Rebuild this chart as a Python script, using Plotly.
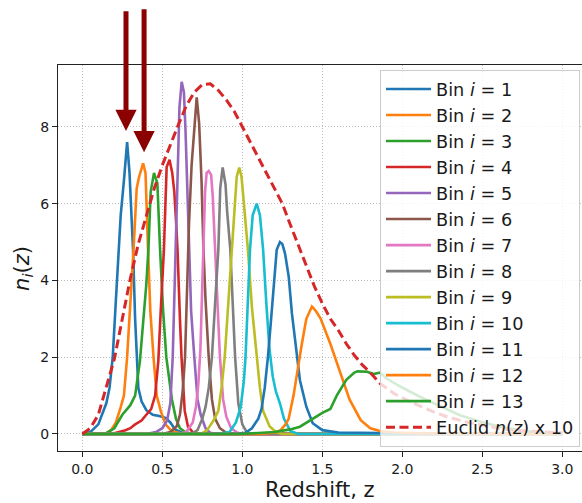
import plotly.graph_objects as go

# ---- data ----
z1 = [0.0, 0.05, 0.10, 0.15, 0.17, 0.19, 0.21, 0.225, 0.24, 0.26, 0.28, 0.295, 0.317, 0.33, 0.34, 0.35, 0.37, 0.40, 0.44, 0.48, 0.52, 0.55, 0.58, 0.62, 0.7, 1.0, 2.0, 3.0]
n1 = [0.0, 0.05, 0.25, 0.8, 1.2, 2.0, 3.5, 4.8, 5.7, 6.6, 7.6, 6.8, 4.8, 3.0, 2.0, 1.2, 0.85, 0.62, 0.5, 0.47, 0.42, 0.3, 0.12, 0.04, 0.01, 0.005, 0.002, 0.0]

z2 = [0.0, 0.15, 0.18, 0.21, 0.24, 0.26, 0.28, 0.30, 0.32, 0.34, 0.355, 0.38, 0.395, 0.41, 0.425, 0.445, 0.465, 0.49, 0.52, 0.56, 0.62, 1.0, 3.0]
n2 = [0.0, 0.02, 0.1, 0.3, 0.7, 1.0, 2.0, 3.3, 4.8, 6.4, 6.7, 7.05, 6.8, 4.9, 3.2, 2.0, 1.0, 0.6, 0.25, 0.07, 0.01, 0.0, 0.0]

z3 = [0.0, 0.15, 0.2, 0.25, 0.3, 0.33, 0.36, 0.38, 0.40, 0.413, 0.427, 0.448, 0.469, 0.486, 0.505, 0.525, 0.545, 0.56, 0.585, 0.61, 0.65, 0.7, 3.0]
n3 = [0.0, 0.02, 0.15, 0.5, 0.75, 1.0, 1.9, 2.8, 3.9, 4.8, 6.3, 6.8, 6.53, 4.8, 3.2, 2.0, 1.3, 0.9, 0.4, 0.15, 0.03, 0.0, 0.0]

z4 = [0.0, 0.2, 0.27, 0.3, 0.33, 0.37, 0.40, 0.43, 0.455, 0.475, 0.49, 0.51, 0.527, 0.545, 0.562, 0.575, 0.585, 0.595, 0.61, 0.62, 0.64, 0.66, 0.69, 0.72, 3.0]
n4 = [0.0, 0.02, 0.1, 0.15, 0.25, 0.35, 0.5, 0.65, 1.0, 1.9, 3.2, 4.8, 6.95, 7.14, 6.8, 6.3, 5.6, 4.8, 3.0, 2.0, 0.6, 0.2, 0.05, 0.0, 0.0]

z5 = [0.0, 0.40, 0.46, 0.50, 0.53, 0.55, 0.565, 0.575, 0.585, 0.597, 0.607, 0.621, 0.635, 0.645, 0.655, 0.665, 0.68, 0.70, 0.72, 0.74, 0.77, 0.80, 0.84, 3.0]
n5 = [0.0, 0.0, 0.05, 0.15, 0.35, 0.8, 2.0, 3.5, 4.9, 7.0, 8.5, 9.17, 8.9, 7.9, 6.5, 4.8, 3.2, 2.0, 0.9, 0.5, 0.15, 0.03, 0.0, 0.0]

z6 = [0.0, 0.50, 0.55, 0.59, 0.61, 0.627, 0.642, 0.655, 0.667, 0.683, 0.697, 0.715, 0.73, 0.745, 0.757, 0.77, 0.79, 0.81, 0.83, 0.86, 0.90, 0.95, 3.0]
n6 = [0.0, 0.0, 0.05, 0.2, 0.5, 1.1, 2.0, 4.0, 5.5, 7.0, 7.9, 8.77, 8.1, 6.6, 4.8, 3.5, 2.0, 0.9, 0.4, 0.15, 0.03, 0.0, 0.0]

z7 = [0.0, 0.60, 0.65, 0.69, 0.71, 0.725, 0.738, 0.748, 0.757, 0.767, 0.777, 0.79, 0.805, 0.815, 0.83, 0.845, 0.86, 0.88, 0.90, 0.93, 0.97, 1.02, 3.0]
n7 = [0.0, 0.0, 0.05, 0.3, 0.7, 1.3, 2.2, 3.6, 5.0, 6.3, 6.8, 6.85, 6.75, 6.2, 4.8, 3.2, 2.0, 0.9, 0.45, 0.15, 0.03, 0.0, 0.0]

z8 = [0.0, 0.68, 0.72, 0.75, 0.77, 0.79, 0.81, 0.83, 0.85, 0.862, 0.877, 0.895, 0.905, 0.925, 0.94, 0.955, 0.975, 1.0, 1.03, 1.07, 3.0]
n8 = [0.0, 0.0, 0.1, 0.4, 0.7, 1.2, 2.0, 3.5, 4.8, 6.4, 6.94, 6.5, 5.8, 4.8, 3.2, 2.0, 0.8, 0.25, 0.03, 0.0, 0.0]

z9 = [0.0, 0.74, 0.78, 0.82, 0.85, 0.87, 0.89, 0.91, 0.933, 0.95, 0.965, 0.981, 0.995, 1.01, 1.035, 1.06, 1.09, 1.11, 1.13, 1.17, 1.21, 1.25, 3.0]
n9 = [0.0, 0.0, 0.1, 0.35, 0.6, 1.2, 2.0, 3.3, 4.8, 6.0, 6.7, 6.94, 6.7, 6.0, 4.8, 3.3, 2.0, 1.2, 0.6, 0.2, 0.05, 0.0, 0.0]

z10 = [0.0, 0.85, 0.92, 0.96, 0.99, 1.01, 1.02, 1.035, 1.048, 1.065, 1.09, 1.11, 1.13, 1.15, 1.17, 1.19, 1.21, 1.235, 1.26, 1.30, 1.35, 3.0]
n10 = [0.0, 0.0, 0.05, 0.3, 0.7, 1.4, 2.0, 3.5, 4.8, 5.7, 6.0, 5.7, 4.8, 3.4, 2.2, 1.5, 1.1, 0.8, 0.4, 0.08, 0.0, 0.0]

z11 = [0.0, 0.95, 1.02, 1.06, 1.10, 1.12, 1.14, 1.16, 1.18, 1.20, 1.215, 1.235, 1.25, 1.267, 1.29, 1.31, 1.34, 1.36, 1.40, 1.44, 1.50, 1.60, 2.0, 3.0]
n11 = [0.0, 0.0, 0.03, 0.15, 0.4, 0.65, 1.2, 2.0, 3.0, 4.1, 4.8, 5.0, 4.95, 4.7, 4.1, 3.14, 2.0, 1.4, 0.71, 0.28, 0.1, 0.04, 0.02, 0.0]

z12 = [0.0, 1.1, 1.2, 1.24, 1.27, 1.29, 1.32, 1.35, 1.37, 1.40, 1.435, 1.46, 1.49, 1.55, 1.61, 1.67, 1.74, 1.80, 1.86, 1.95, 2.1, 3.0]
n12 = [0.0, 0.0, 0.03, 0.1, 0.25, 0.4, 1.0, 1.85, 2.3, 3.0, 3.32, 3.2, 3.0, 2.35, 1.6, 0.9, 0.36, 0.15, 0.08, 0.04, 0.02, 0.0]

z13 = [0.0, 1.0, 1.2, 1.3, 1.36, 1.44, 1.5, 1.55, 1.59, 1.65, 1.70, 1.72, 1.78, 1.82, 1.86, 1.9, 1.99, 2.11, 2.24, 2.36, 2.49, 2.61, 2.74, 2.86, 3.0]
n13 = [0.0, 0.0, 0.05, 0.12, 0.19, 0.4, 0.55, 0.65, 1.0, 1.41, 1.6, 1.63, 1.62, 1.56, 1.6, 1.45, 1.23, 0.97, 0.71, 0.49, 0.32, 0.19, 0.09, 0.04, 0.02]

z_euclid = [0.0, 0.05, 0.1, 0.15, 0.2, 0.25, 0.3, 0.35, 0.4, 0.45, 0.5, 0.55, 0.6, 0.65, 0.7, 0.75, 0.8, 0.85, 0.9, 0.95, 1.0, 1.05, 1.1, 1.15, 1.2, 1.25, 1.3, 1.35, 1.4, 1.45, 1.5, 1.55, 1.6, 1.65, 1.7, 1.75, 1.8, 1.86, 1.95, 2.07, 2.2, 2.28, 2.4, 2.49, 2.6, 2.69, 2.8, 2.9, 3.0]
n_euclid = [0.0, 0.15, 0.5, 1.2, 1.95, 3.0, 4.05, 4.95, 5.7, 6.4, 7.0, 7.55, 8.05, 8.55, 8.9, 9.1, 9.12, 8.95, 8.7, 8.4, 8.0, 7.6, 7.2, 6.8, 6.4, 6.0, 5.45, 4.9, 4.35, 3.85, 3.4, 3.0, 2.7, 2.35, 2.05, 1.8, 1.6, 1.32, 1.05, 0.8, 0.57, 0.45, 0.31, 0.23, 0.15, 0.1, 0.07, 0.05, 0.03]

bin_z = [z1, z2, z3, z4, z5, z6, z7, z8, z9, z10, z11, z12, z13]
bin_n = [n1, n2, n3, n4, n5, n6, n7, n8, n9, n10, n11, n12, n13]
bin_labels = [f"Bin <i>i</i> = {k}" for k in range(1, 14)]
euclid_label = "Euclid <i>n</i>(<i>z</i>) x 10"

x_ticks = [0.0, 0.5, 1.0, 1.5, 2.0, 2.5, 3.0]
x_tick_text = ["0.0", "0.5", "1.0", "1.5", "2.0", "2.5", "3.0"]
y_ticks = [0, 2, 4, 6, 8]
y_tick_text = ["0", "2", "4", "6", "8"]

# arrows: tip (z, n) and tail height
arrow_z = [0.273, 0.386]
arrow_tip = [7.89, 7.34]
arrow_tail = [11.05, 11.1]

colors = ["#1f77b4", "#ff7f0e", "#2ca02c", "#d62728", "#9467bd", "#8c564b",
          "#e377c2", "#7f7f7f", "#bcbd22", "#17becf", "#1f77b4", "#ff7f0e", "#2ca02c"]

FONT = "DejaVu Sans"
TXT = "#1a1a1a"

fig = go.Figure()
for zz, nn, lab, col in zip(bin_z, bin_n, bin_labels, colors):
    fig.add_trace(go.Scatter(x=zz, y=nn, mode="lines", name=lab,
                             line=dict(color=col, width=2.6)))
fig.add_trace(go.Scatter(x=z_euclid, y=n_euclid, mode="lines", name=euclid_label,
                         line=dict(color="#d62728", width=3, dash="9px,4.5px")))

annotations = []
for az, tip, tail in zip(arrow_z, arrow_tip, arrow_tail):
    annotations.append(dict(x=az, y=tip, ax=az, ay=tail, xref="x", yref="y",
                            axref="x", ayref="y", text="", showarrow=True,
                            arrowhead=2, arrowsize=0.85, arrowwidth=5,
                            arrowcolor="#8b0000"))
annotations.append(dict(text="Redshift, z", xref="paper", yref="paper",
                        x=0.5, y=-0.101, xanchor="center", yanchor="middle",
                        showarrow=False, font=dict(family=FONT, size=21, color=TXT)))
annotations.append(dict(text="<i>n<sub>i</sub></i>(<i>z</i>)", xref="paper", yref="paper",
                        x=-0.067, y=0.474, xanchor="center", yanchor="middle",
                        textangle=-90, showarrow=False,
                        font=dict(family=FONT, size=21, color=TXT)))

fig.update_layout(
    width=582, height=503,
    margin=dict(l=58, r=0, t=65, b=52),
    paper_bgcolor="white", plot_bgcolor="white",
    font=dict(family=FONT, color=TXT),
    showlegend=True,
    legend=dict(x=0.6145, y=0.987, xanchor="left", yanchor="top",
                bgcolor="rgba(255,255,255,0.8)", bordercolor="#cccccc", borderwidth=1,
                font=dict(family=FONT, size=17.7, color=TXT),
                itemwidth=45, traceorder="normal"),
    annotations=annotations,
)
fig.update_xaxes(range=[-0.152, 3.123], tickvals=x_ticks, ticktext=x_tick_text,
                 showline=True, linecolor="#222", linewidth=1.2, mirror=True,
                 ticks="outside", ticklen=5, tickcolor="#222",
                 tickfont=dict(family=FONT, size=14, color=TXT),
                 showgrid=True, gridcolor="#bdbdbd", griddash="1px,2px", gridwidth=1,
                 zeroline=False)
fig.update_yaxes(range=[-0.443, 9.61], tickvals=y_ticks, ticktext=y_tick_text,
                 showline=True, linecolor="#222", linewidth=1.2, mirror=False,
                 ticks="outside", ticklen=5, tickcolor="#222",
                 tickfont=dict(family=FONT, size=14, color=TXT),
                 showgrid=True, gridcolor="#bdbdbd", griddash="1px,2px", gridwidth=1,
                 zeroline=False)

fig.write_html("out.html")
